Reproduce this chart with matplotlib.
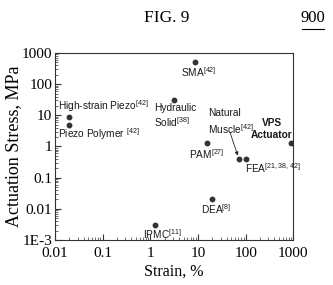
import numpy as np
import matplotlib
matplotlib.use("Agg")
import matplotlib.pyplot as plt
from matplotlib.ticker import FixedLocator, FixedFormatter, LogLocator, NullFormatter

plt.rcParams['mathtext.fontset'] = 'custom'
plt.rcParams['mathtext.rm'] = 'Liberation Sans'
plt.rcParams['mathtext.bf'] = 'Liberation Sans:bold'

# actuator data: strain (%) and actuation stress (MPa)
names = ['High-strain Piezo', 'Piezo Polymer', 'SMA', 'Hydraulic Solid', 'PAM',
         'Natural Muscle', 'FEA', 'VPS Actuator', 'DEA', 'IPMC']
strain = [0.02, 0.02, 8.5, 3.1, 15.5, 72, 100, 880, 20, 1.25]
stress = [9, 5, 500, 30, 1.33, 0.4, 0.4, 1.33, 0.02, 0.003]
labels = ['High-strain Piezo$^{[42]}$', 'Piezo Polymer $^{[42]}$', 'SMA$^{[42]}$',
          'Hydraulic\nSolid$^{[38]}$', 'PAM$^{[27]}$', None, 'FEA$^{[21,38,42]}$',
          'VPS\nActuator', 'DEA$^{[8]}$', 'IPMC$^{[11]}$']
# text offsets in points
offs = [(-8.1, 7.7), (-8.1, -7.0), (-9.6, -7.2), (-14.2, -11.0), (-13, -8.1),
        None, (-0.5, -6.9), (-13.8, 10.0), (-7.9, -7.2), (-8.9, -6.5)]

xticks = [0.01, 0.1, 1, 10, 100, 1000]
xticklabels = ['0.01', '0.1', '1', '10', '100', '1000']
yticks = [1e-3, 1e-2, 1e-1, 1, 10, 100, 1000]
yticklabels = ['1E-3', '0.01', '0.1', '1', '10', '100', '1000']

fig = plt.figure(figsize=(3.33, 2.85), dpi=100)
ax = fig.add_axes([0.165, 0.158, 0.716, 0.656])
ax.set_xscale('log')
ax.set_yscale('log')
ax.set_xlim(0.01, 1000)
ax.set_ylim(1e-3, 1000)

ax.plot(strain, stress, 'o', color='#333333', markersize=3.2, linestyle='none')

sans = 'Liberation Sans'
serif = 'Liberation Serif'
for i in range(len(names)):
    if labels[i] is None:
        continue
    bold = names[i] == 'VPS Actuator'
    ax.annotate(labels[i], (strain[i], stress[i]), xytext=offs[i], textcoords='offset points',
                ha='center' if bold else 'left', va='center', fontsize=7.3,
                family=sans, weight='bold' if bold else 'normal',
                color='#1a1a1a', linespacing=1.2)

# natural muscle label with arrow
ax.annotate('Natural\nMuscle$^{[42]}$', (strain[5], stress[5]), xytext=(-22.5, 26.8),
            textcoords='offset points', ha='left', va='center', fontsize=7.3,
            family=sans, color='#1a1a1a', linespacing=1.35)
ax.annotate('', (strain[5], stress[5]), xytext=(-6.5, 19.4), textcoords='offset points',
            arrowprops=dict(arrowstyle='-|>', color='#222222', lw=0.6,
                            mutation_scale=5, shrinkA=0, shrinkB=2.5))

ax.xaxis.set_major_locator(FixedLocator(xticks))
ax.xaxis.set_major_formatter(FixedFormatter(xticklabels))
ax.yaxis.set_major_locator(FixedLocator(yticks))
ax.yaxis.set_major_formatter(FixedFormatter(yticklabels))
ax.xaxis.set_minor_locator(LogLocator(base=10, subs=np.arange(2, 10), numticks=20))
ax.yaxis.set_minor_locator(LogLocator(base=10, subs=np.arange(2, 10), numticks=20))
ax.xaxis.set_minor_formatter(NullFormatter())
ax.yaxis.set_minor_formatter(NullFormatter())
ax.tick_params(which='both', direction='in', top=False, right=False, color='#333333')
ax.tick_params(which='major', length=4, width=0.8, labelsize=11)
ax.tick_params(axis='x', which='major', pad=5)
ax.tick_params(axis='y', which='major', pad=2)
ax.tick_params(which='minor', length=2, width=0.5)
for lab in ax.get_xticklabels() + ax.get_yticklabels():
    lab.set_family(serif)
for s in ax.spines.values():
    s.set_color('#333333')
    s.set_linewidth(0.8)

ax.set_xlabel('Strain, %', family=serif, fontsize=11.5, labelpad=3)
ax.set_ylabel('Actuation Stress, MPa', family=serif, fontsize=13, labelpad=0)

fig.text(0.502, 0.937, 'FIG. 9', family=serif, fontsize=12.5, ha='center', va='center')
fig.text(0.94, 0.937, '900', family=serif, fontsize=12, ha='center', va='center')
fig.add_artist(plt.Line2D([0.906, 0.974], [0.900, 0.900], color='black', lw=0.8))

fig.savefig('out.png', dpi=100)
